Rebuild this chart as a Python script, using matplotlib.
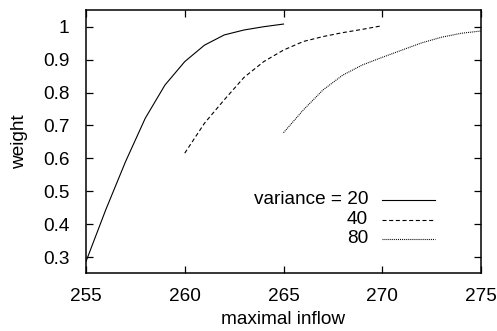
import numpy as np
import matplotlib
matplotlib.use("Agg")
import matplotlib.pyplot as plt

plt.rcParams["font.family"] = ["Liberation Sans", "DejaVu Sans"]
plt.rcParams["lines.scale_dashes"] = False

# data
x20 = [255, 256, 257, 258, 259, 260, 261, 262, 263, 264, 265]
w20 = [0.287, 0.444, 0.590, 0.722, 0.823, 0.894, 0.944, 0.975, 0.990, 1.000, 1.008]
x40 = [260, 261, 262, 263, 264, 265, 266, 267, 268, 269, 270]
w40 = [0.616, 0.707, 0.778, 0.846, 0.894, 0.929, 0.955, 0.970, 0.982, 0.992, 1.003]
x80 = [265, 266, 267, 268, 269, 270, 271, 272, 273, 274, 275]
w80 = [0.678, 0.747, 0.808, 0.853, 0.884, 0.907, 0.929, 0.951, 0.968, 0.980, 0.987]
labels = ["variance = 20", "40", "80"]
xticks = [255, 260, 265, 270, 275]
yticks = [0.3, 0.4, 0.5, 0.6, 0.7, 0.8, 0.9, 1]

styles = ["-", (0, (2.9, 1.9)), (0, (0.7, 0.7))]
fs = 13.7

fig = plt.figure(figsize=(4.97, 3.31), dpi=100)
ax = fig.add_axes([86 / 497, 1 - 272.7 / 331, (481 - 86) / 497, (272.7 - 10) / 331])

series = [(x20, w20), (x40, w40), (x80, w80)]
for (xs, ys), ls in zip(series, styles):
    ax.plot(xs, ys, color="black", lw=0.8, linestyle=ls)

ax.set_xlim(255, 275)
ax.set_ylim(0.253, 1.0507)
ax.set_xticks(xticks)
ax.set_yticks(yticks)
ax.set_yticklabels([f"{t:g}" for t in yticks])
ax.tick_params(direction="in", length=5, width=0.9, top=True, right=True,
               labelsize=fs, pad=12)
ax.tick_params(axis="x", pad=11)
for s in ax.spines.values():
    s.set_linewidth(1.1)

ax.set_xlabel("maximal inflow", fontsize=fs, labelpad=4)
ax.set_ylabel("weight", fontsize=fs, labelpad=11)

# gnuplot style key: right aligned text, sample lines to the right
tx = (368 - 86) / 395
lx0 = (382 - 86) / 395
lx1 = (435 - 86) / 395
rows = [200, 219.5, 238.5]
for lab, ls, ry in zip(labels, styles, rows):
    yy = (272.7 - ry) / 262.7
    ax.text(tx, yy, lab, transform=ax.transAxes, ha="right", va="center",
            fontsize=fs)
    ax.plot([lx0, lx1], [yy, yy], transform=ax.transAxes, color="black",
            lw=0.8, linestyle=ls)

fig.savefig("out.png", dpi=100)
